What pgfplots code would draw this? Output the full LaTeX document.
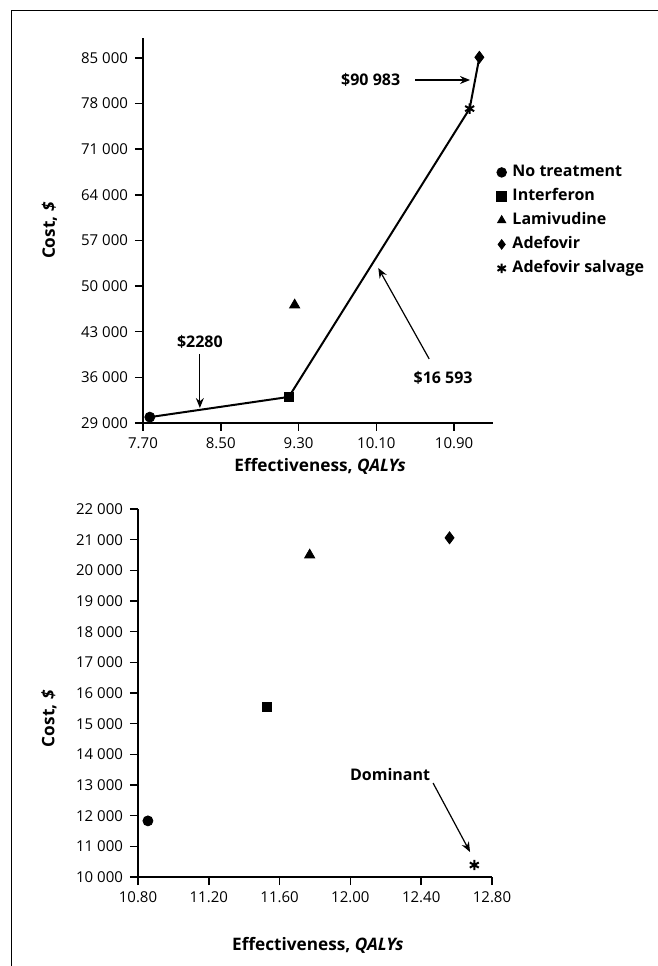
\documentclass[border=0pt]{standalone}
\usepackage{fontspec}
\setmainfont{Open Sans}
\usepackage{pgfplots}
\pgfplotsset{compat=1.18}
\usetikzlibrary{arrows.meta}

\newcommand{\lblfont}{\bfseries\fontsize{8}{10}\selectfont}
\newcommand{\axfont}{\bfseries\fontsize{8.6}{10}\selectfont}
\tikzset{note/.style={-{Stealth[length=5pt,width=4pt]}, line width=0.6pt}}

\pgfplotsset{
  costaxis/.style={
    scale only axis,
    axis lines=left,
    axis line style={-, line width=0.75pt},
    tick align=outside,
    major tick length=4pt,
    tick style={line width=0.75pt, black},
    ticklabel style={font=\fontsize{7.5}{9}\selectfont},
    scaled ticks=false,
    /pgf/number format/assume math mode=true,
    clip=false,
  },
  nt/.style={only marks, mark=*, mark size=2.5pt, black},
  ifn/.style={only marks, mark=square*, mark size=2.2pt, black},
  lam/.style={only marks, mark=triangle*, mark size=2.9pt, black},
  ade/.style={only marks, mark=diamond*, mark size=3pt, black},
  sal/.style={only marks, mark=asterisk, mark size=2.6pt, black, mark options={line width=1pt}},
}

\begin{document}
\begin{tikzpicture}
\useasboundingbox (0,0) rectangle (329pt,483pt);
\draw[line width=0.5pt] (5.5pt,0pt) -- (5.5pt,477.5pt) -- (329pt,477.5pt);

% upper panel
\begin{axis}[costaxis,
    at={(71.5pt,271.5pt)}, anchor=south west,
    width=175pt, height=192.3pt,
    xmin=7.70, xmax=11.30, ymin=29000, ymax=88000,
    xtick={7.7,8.5,9.3,10.1,10.9},
    xticklabels={7.70,8.50,9.30,10.10,10.90},
    ytick={29000,36000,43000,50000,57000,64000,71000,78000,85000},
    yticklabels={29 000,36 000,43 000,50 000,57 000,64 000,71 000,78 000,85 000},
    xlabel={Effectiveness, \textit{QALYs}},
    ylabel={Cost, \textit{\$}},
    every axis x label/.style={at={(axis description cs:0.506,-0.114)}, anchor=center, font=\axfont},
    every axis y label/.style={at={(axis description cs:-0.225,0.5)}, anchor=south, rotate=90, font=\axfont},
    legend style={at={(rel axis cs:1.01,0.676)}, anchor=north west, draw=none, fill=none,
      font=\lblfont, inner sep=0pt, row sep=3pt, column sep=2.5pt,
      nodes={inner sep=0.5pt, text height=6pt, text depth=2pt}},
    legend cell align=left,
    legend image code/.code={\draw[#1, mark size=2.4pt] plot coordinates {(2pt,0pt)};},
  ]
  \addplot[black, line width=1pt, forget plot] coordinates {(7.77,29900) (9.20,33000) (11.06,77230) (11.16,85100)};
  \addplot[nt] coordinates {(7.77,29900)};
  \addlegendentry{No treatment}
  \addplot[ifn] coordinates {(9.20,33000)};
  \addlegendentry{Interferon}
  \addplot[lam] coordinates {(9.26,47100)};
  \addlegendentry{Lamivudine}
  \addplot[ade] coordinates {(11.16,85100)};
  \addlegendentry{Adefovir}
  \addplot[sal] coordinates {(11.06,77230)};
  \addlegendentry{Adefovir salvage}

  \node[font=\lblfont] at (axis cs:8.285,41430) {\$2280};
  \draw[note] (axis cs:8.285,39590) -- (axis cs:8.285,31300);
  \node[font=\lblfont, anchor=east] at (axis cs:10.418,81620) {\$90 983};
  \draw[note] (axis cs:10.50,81620) -- (axis cs:11.064,81620);
  \node[font=\lblfont] at (axis cs:10.787,35900) {\$16 593};
  \draw[note] (axis cs:10.644,38820) -- (axis cs:10.12,52780);
\end{axis}

% lower panel
\begin{axis}[costaxis,
    at={(69pt,44.5pt)}, anchor=south west,
    width=177pt, height=184pt,
    xmin=10.80, xmax=12.80, ymin=10000, ymax=22000,
    xtick={10.8,11.2,11.6,12.0,12.4,12.8},
    xticklabels={10.80,11.20,11.60,12.00,12.40,12.80},
    ytick={10000,11000,12000,13000,14000,15000,16000,17000,18000,19000,20000,21000,22000},
    yticklabels={10 000,11 000,12 000,13 000,14 000,15 000,16 000,17 000,18 000,19 000,20 000,21 000,22 000},
    xlabel={Effectiveness, \textit{QALYs}},
    ylabel={Cost, \textit{\$}},
    every axis x label/.style={at={(axis description cs:0.508,-0.185)}, anchor=center, font=\axfont},
    every axis y label/.style={at={(axis description cs:-0.21,0.43)}, anchor=south, rotate=90, font=\axfont},
  ]
  \addplot[nt] coordinates {(10.856,11830)};
  \addplot[ifn] coordinates {(11.53,15540)};
  \addplot[lam] coordinates {(11.77,20500)};
  \addplot[ade] coordinates {(12.56,21060)};
  \addplot[sal] coordinates {(12.70,10390)};

  \node[font=\lblfont] at (axis cs:12.224,13358) {Dominant};
  \draw[note] (axis cs:12.467,13065) -- (axis cs:12.676,10815);
\end{axis}
\end{tikzpicture}
\end{document}
